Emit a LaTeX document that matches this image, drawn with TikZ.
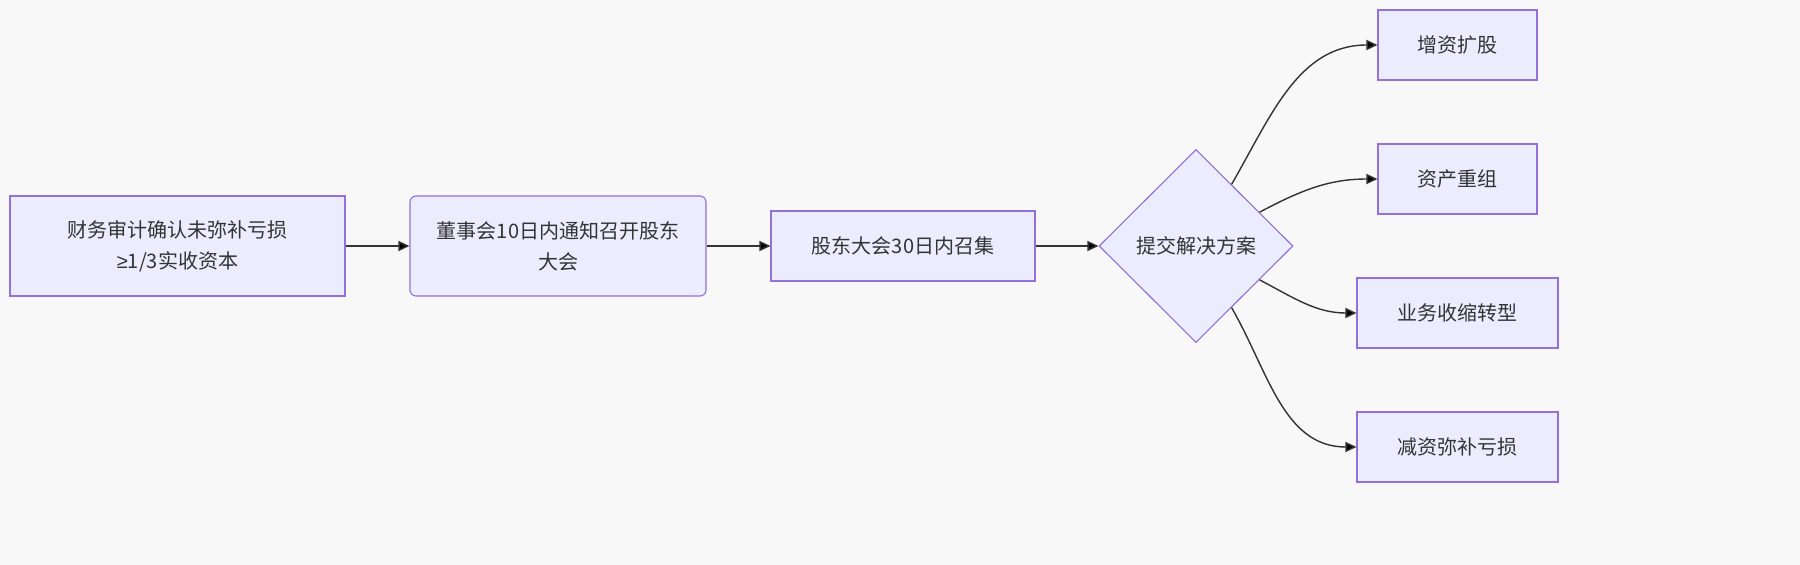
\documentclass[tikz,border=0pt]{standalone}
\usepackage{fontspec}
\setmainfont{Noto Sans CJK SC}
\newfontfamily\symfont{Liberation Sans}
\usetikzlibrary{arrows.meta,shapes.geometric}
\definecolor{boxfill}{HTML}{ECECFF}
\definecolor{boxline}{HTML}{9370DB}
\definecolor{linkgray}{HTML}{333333}
\definecolor{bggray}{HTML}{F8F8F8}

\begin{document}
\begin{tikzpicture}[x=1pt, y=-1pt,
  box/.style={shape=rectangle, draw=boxline, fill=boxfill, line width=1.1pt, text=linkgray, align=center, inner sep=0pt, font=\fontsize{20}{31}\selectfont},
  decide/.style={shape=diamond, aspect=1, draw=boxline, fill=boxfill, line width=1.1pt, text=linkgray, minimum width=194pt, minimum height=193pt, inner sep=0pt, font=\fontsize{20}{31}\selectfont},
  link/.style={-{Triangle[length=11pt,width=10pt]}, line width=1.4pt, draw=linkgray}]
\fill[bggray] (0,0) rectangle (1800,565);
\useasboundingbox (0,0) rectangle (1800,565);
\node[box, minimum width=335pt, minimum height=100pt] (audit) at (177.5,246) {财务审计确认未弥补亏损\\{\symfont ≥}1/3实收资本};
\node[box, rounded corners=6pt, minimum width=296pt, minimum height=100pt] (board) at (558,246) {董事会10日内通知召开股东\\大会};
\node[box, minimum width=264pt, minimum height=70pt] (meeting) at (903,246) {股东大会30日内召集};
\node[decide] (plan) at (1196,246) {提交解决方案};
\node[box, minimum width=159pt, minimum height=70pt] (raise) at (1457.5,45) {增资扩股};
\node[box, minimum width=159pt, minimum height=70pt] (restructure) at (1457.5,179) {资产重组};
\node[box, minimum width=201pt, minimum height=70pt] (shrink) at (1457.5,313) {业务收缩转型};
\node[box, minimum width=201pt, minimum height=70pt] (reduce) at (1457.5,447) {减资弥补亏损};
\path[link] (audit) edge (board);
\path[link] (board) edge (meeting);
\path[link] (meeting) edge (plan);
\path[link] (plan) edge[out=60, in=180] (raise.west);
\path[link] (plan) edge[out=28, in=180] (restructure.west);
\path[link] (plan) edge[out=-28, in=180] (shrink.west);
\path[link] (plan) edge[out=-60, in=180] (reduce.west);
\end{tikzpicture}
\end{document}
